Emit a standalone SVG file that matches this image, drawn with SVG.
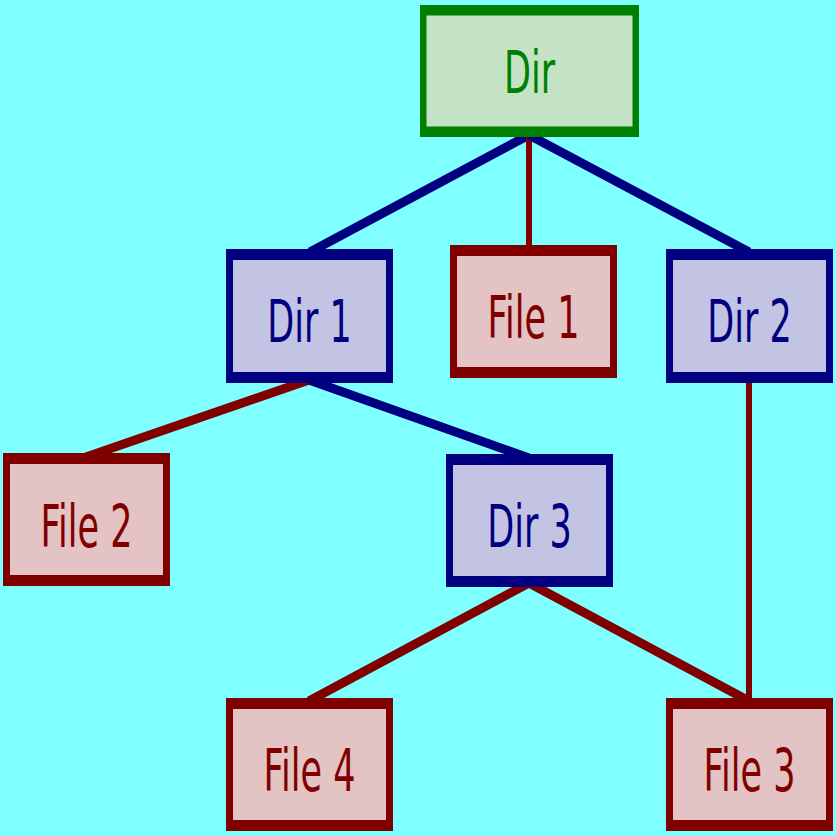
<svg xmlns="http://www.w3.org/2000/svg" width="836" height="836" viewBox="0 0 836 836">
<style>
.bg{fill:#7fffff}
.g .o{fill:#008000}.g .i{fill:#c4e3c4}.g text{fill:#008000}
.b .o{fill:#000080}.b .i{fill:#c3c3e3}.b text{fill:#000080}
.r .o{fill:#800000}.r .i{fill:#e3c3c3}.r text{fill:#800000}
text{font-family:"DejaVu Sans",sans-serif;font-size:35px;text-anchor:middle}
.cb{stroke:#000080;fill:none}
.cr{stroke:#800000;fill:none}
</style>
<rect class="bg" x="0" y="0" width="836" height="836"/>
<g id="connectors">
<line class="cb" x1="529" y1="135" x2="310" y2="252" stroke-width="9"/>
<line class="cr" x1="529" y1="135" x2="529" y2="248" stroke-width="6"/>
<line class="cb" x1="529" y1="135" x2="749" y2="252" stroke-width="9"/>
<line class="cr" x1="309" y1="380" x2="86" y2="457" stroke-width="9"/>
<line class="cb" x1="309" y1="380" x2="529" y2="458" stroke-width="9"/>
<line class="cr" x1="749" y1="380" x2="749" y2="701" stroke-width="6"/>
<line class="cr" x1="529" y1="583" x2="309" y2="701" stroke-width="9"/>
<line class="cr" x1="529" y1="583" x2="749" y2="701" stroke-width="9"/>
</g>
<g id="dir" class="g"><rect class="o" x="420" y="5" width="219" height="132"/><rect class="i" x="426.5" y="15.5" width="206" height="111"/><text transform="translate(529.5,93) scale(1,1.67)">Dir</text></g>
<g id="dir1" class="b"><rect class="o" x="226" y="249" width="167" height="134"/><rect class="i" x="233" y="260" width="153" height="112"/><text transform="translate(309.5,342) scale(1,1.67)">Dir 1</text></g>
<g id="file1" class="r"><rect class="o" x="450" y="245" width="167" height="133"/><rect class="i" x="457" y="256" width="153" height="111"/><text transform="translate(533.5,338) scale(1,1.67)">File 1</text></g>
<g id="dir2" class="b"><rect class="o" x="666" y="249" width="167" height="134"/><rect class="i" x="673" y="260" width="153" height="112"/><text transform="translate(749.5,342) scale(1,1.67)">Dir 2</text></g>
<g id="file2" class="r"><rect class="o" x="3" y="453" width="167" height="133"/><rect class="i" x="10" y="464" width="153" height="111"/><text transform="translate(86.5,547) scale(1,1.67)">File 2</text></g>
<g id="dir3" class="b"><rect class="o" x="446" y="454" width="167" height="133"/><rect class="i" x="453" y="465" width="153" height="111"/><text transform="translate(529.5,547) scale(1,1.67)">Dir 3</text></g>
<g id="file4" class="r"><rect class="o" x="226" y="698" width="167" height="133"/><rect class="i" x="233" y="709" width="153" height="111"/><text transform="translate(309.5,791) scale(1,1.67)">File 4</text></g>
<g id="file3" class="r"><rect class="o" x="666" y="698" width="167" height="133"/><rect class="i" x="673" y="709" width="153" height="111"/><text transform="translate(749.5,791) scale(1,1.67)">File 3</text></g>
</svg>
